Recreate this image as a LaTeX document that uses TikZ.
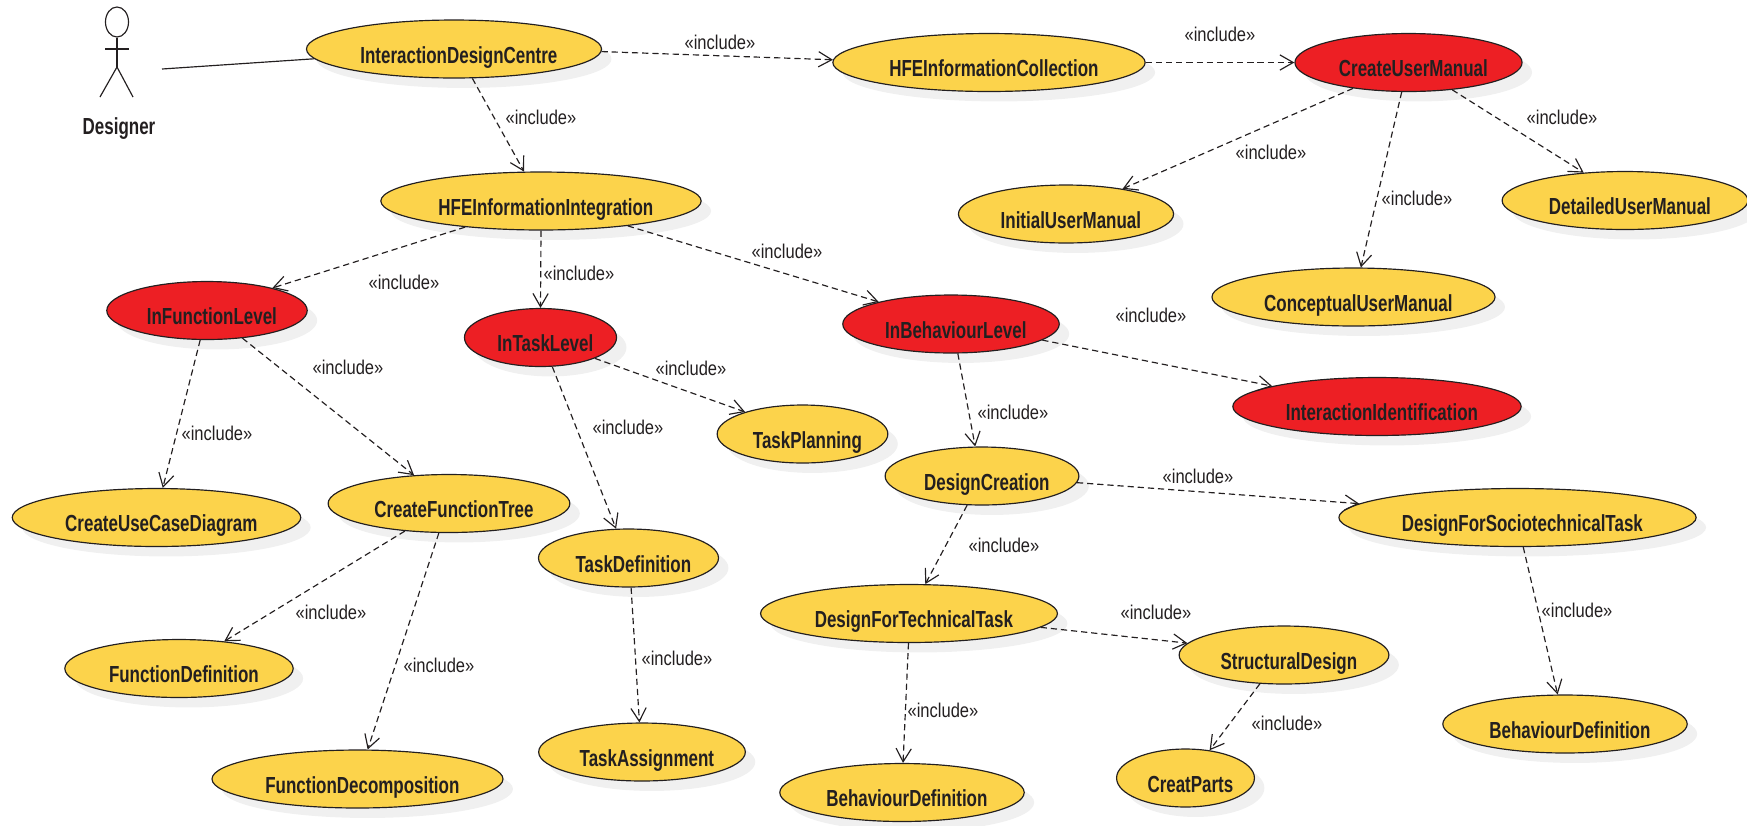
\documentclass[tikz,border=0pt]{standalone}
\usepackage{fontspec}
\usepackage{tikz}
\usetikzlibrary{arrows.meta,shapes.geometric,shadows}
\newfontfamily\ucfont[FakeStretch=0.73]{Liberation Sans}
\newfontfamily\lblfont[FakeStretch=0.83]{Liberation Sans}
\definecolor{ucyel}{HTML}{FCD34B}
\definecolor{ucrd}{HTML}{ED1F24}
\definecolor{ink}{HTML}{231F20}
\newcommand{\incl}{«include»}

\begin{document}
\begin{tikzpicture}[x=0.018cm,y=-0.018cm,
usecase/.style={ellipse,draw=ink,line width=0.6pt,fill=ucyel,minimum height=29.7pt,
  inner xsep=0.5pt,inner ysep=0.5pt,text height=14.5pt,text depth=0pt,text=ink,
  font=\fontsize{11.9}{14}\selectfont\ucfont\bfseries,
  execute at begin node={\hspace*{5pt}},
  drop shadow={shadow xshift=5.1pt,shadow yshift=-5.1pt,fill=black!6,opacity=1,draw=none}},
usecasered/.style={usecase,fill=ucrd},
lbl/.style={inner sep=0pt,text=ink,font=\fontsize{10.2}{12}\selectfont\lblfont},
incl/.style={color=ink,line width=0.6pt,dash pattern=on 3.2pt off 2pt,
  -{Straight Barb[length=6.8pt,width=7.8pt]}}]
\useasboundingbox (0,0) rectangle (1747,825);

% actor
\node[draw=ink,line width=0.6pt,ellipse,minimum width=11.8pt,minimum height=15.4pt,inner sep=0pt] (head) at (117,22) {};
\coordinate (hip) at (117,67);
\coordinate (act) at (162,69);
\draw[ink,line width=0.6pt] (head.south) -- (hip);
\draw[ink,line width=0.6pt] (105,49) -- (129,49);
\draw[ink,line width=0.6pt] (100,97) -- (hip) -- (133,97);
\node[inner sep=0pt,text=ink,font=\fontsize{11.9}{14}\selectfont\ucfont\bfseries] (actor) at (119,128.5) {Designer};

% use cases
\node[usecase] (IDC) at (454,49) {InteractionDesignCentre};
\node[usecase] (HIC) at (989,62.5) {HFEInformationCollection};
\node[usecasered] (CUM) at (1408.5,62.5) {CreateUserManual};
\node[usecase] (HII) at (541,201) {HFEInformationIntegration};
\node[usecase] (IUM) at (1066,214) {InitialUserManual};
\node[usecase] (DUM) at (1625,200.5) {DetailedUserManual};
\node[usecase] (CPUM) at (1353.5,297) {ConceptualUserManual};
\node[usecasered] (IFL) at (207,310.5) {InFunctionLevel};
\node[usecasered] (ITL) at (540.5,337.5) {InTaskLevel};
\node[usecasered] (IBL) at (951,324) {InBehaviourLevel};
\node[usecasered] (II) at (1377,406.5) {InteractionIdentification};
\node[usecase] (TP) at (802.5,434) {TaskPlanning};
\node[usecase] (CUCD) at (156.5,517.5) {CreateUseCaseDiagram};
\node[usecase] (CFT) at (449,503.5) {CreateFunctionTree};
\node[usecase] (DC) at (982,476) {DesignCreation};
\node[usecase] (DFST) at (1517.5,517.5) {DesignForSociotechnicalTask};
\node[usecase] (TD) at (628.5,558) {TaskDefinition};
\node[usecase] (DFTT) at (909,613.5) {DesignForTechnicalTask};
\node[usecase] (FD) at (179,668.5) {FunctionDefinition};
\node[usecase] (SD) at (1284,655) {StructuralDesign};
\node[usecase] (BDb) at (1565,724) {BehaviourDefinition};
\node[usecase] (FDC) at (357.5,779) {FunctionDecomposition};
\node[usecase] (TA) at (642,752) {TaskAssignment};
\node[usecase] (BDa) at (902,792.5) {BehaviourDefinition};
\node[usecase] (CP) at (1185.5,778) {CreatParts};

% labels
\node[lbl] (L1) at (720,42) {\incl};
\node[lbl] (L2) at (541,117) {\incl};
\node[lbl] (L3) at (1220,34) {\incl};
\node[lbl] (L4) at (1271,152) {\incl};
\node[lbl] (L5) at (1417,198) {\incl};
\node[lbl] (L6) at (1562,117) {\incl};
\node[lbl] (L7) at (404,282) {\incl};
\node[lbl] (L8) at (579,273) {\incl};
\node[lbl] (L9) at (787,251) {\incl};
\node[lbl] (L10) at (217,433) {\incl};
\node[lbl] (L11) at (348,367) {\incl};
\node[lbl] (L12) at (691,368) {\incl};
\node[lbl] (L13) at (628,427) {\incl};
\node[lbl] (L14) at (1151,315) {\incl};
\node[lbl] (L15) at (1013,412) {\incl};
\node[lbl] (L16) at (1198,476) {\incl};
\node[lbl] (L17) at (1004,545) {\incl};
\node[lbl] (L18) at (331,612) {\incl};
\node[lbl] (L19) at (439,665) {\incl};
\node[lbl] (L20) at (677,658) {\incl};
\node[lbl] (L21) at (1156,612) {\incl};
\node[lbl] (L22) at (943,710) {\incl};
\node[lbl] (L23) at (1287,723) {\incl};
\node[lbl] (L24) at (1577,610) {\incl};

\draw[ink,line width=0.6pt] (act) -- (IDC.184);
\path[incl]
(IDC.-1) edge (HIC.179)
(IDC.-58.5) edge (HII.120)
(HIC) edge (CUM)
(CUM.-155.6) edge (IUM.24)
(CUM.-103.4) edge (CPUM.76.4)
(CUM.-32.5) edge (DUM.146.2)
(HII.-161.6) edge (IFL.19.3)
(HII.-90) edge (ITL.90)
(HII.-16.75) edge (IBL.163.25)
(IFL.-103.8) edge (CUCD.78.3)
(IFL.-38.2) edge (CFT.141.8)
(ITL.-21) edge (TP.159.9)
(ITL.-68.4) edge (TD.113.5)
(IBL.-10.7) edge (II.169.1)
(IBL.-77.7) edge (DC.103.6)
(DC.-4) edge (DFST.175.5)
(DC.-117.3) edge (DFTT.61.6)
(CFT.-148.3) edge (FD.31.7)
(CFT.-109.3) edge (FDC.71.3)
(TD.-85.5) edge (TA.95.5)
(DFTT.-6.5) edge (SD.173.5)
(DFTT.-91.8) edge (BDa.88)
(SD.-130) edge (CP.49.6)
(DFST.-79.8) edge (BDb.104.5);
\end{tikzpicture}
\end{document}
